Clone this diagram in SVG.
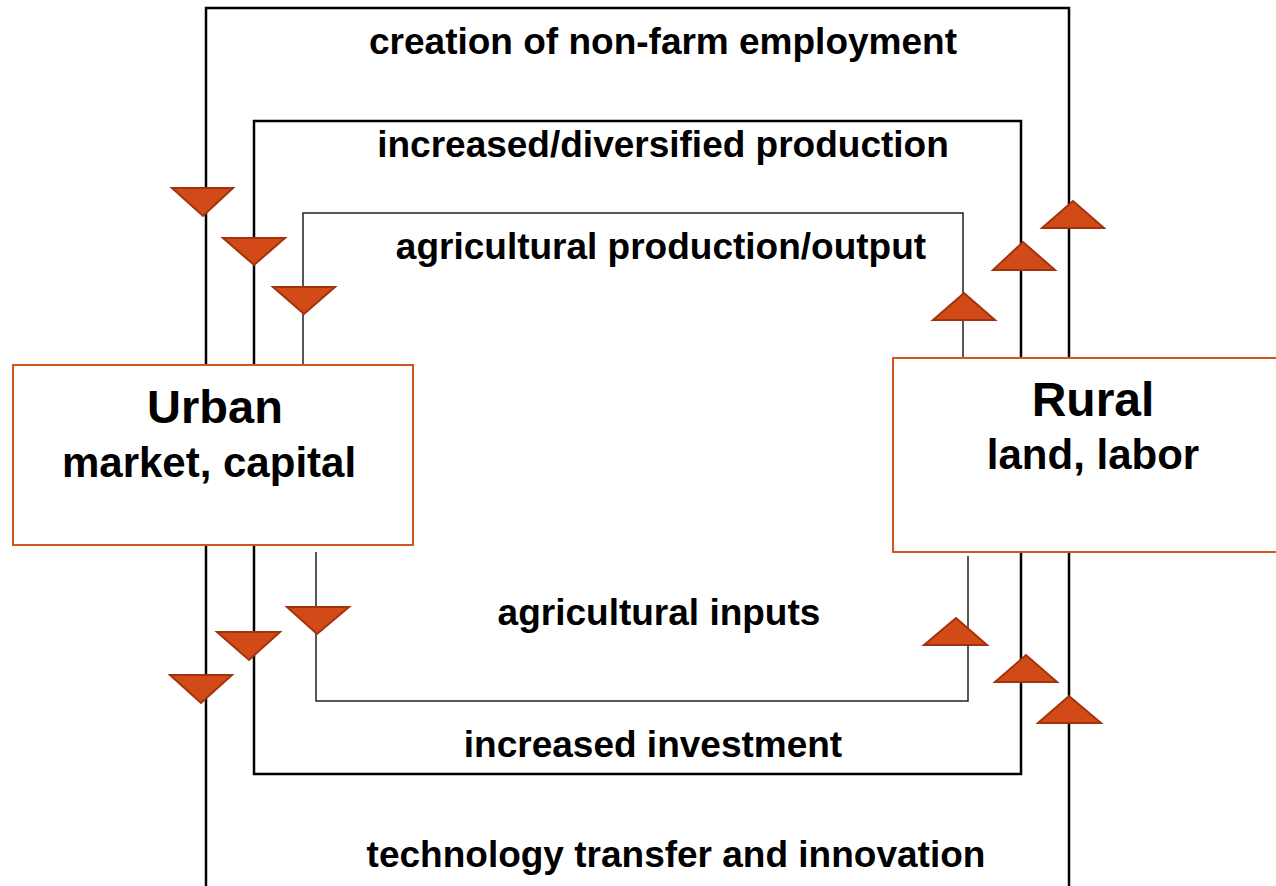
<svg xmlns="http://www.w3.org/2000/svg" width="1276" height="886" viewBox="0 0 1276 886">
<style>
.t{font-family:"Liberation Sans",Arial,sans-serif;font-weight:bold;fill:#000;text-anchor:middle}
.lbl{font-size:37px}
.thick{fill:none;stroke:#000;stroke-width:2.5}
.thin{fill:none;stroke:#222;stroke-width:1.5}
.box{fill:#fff;stroke:#d4541f;stroke-width:2}
.tri{fill:#d24a17;stroke:#a3330d;stroke-width:2;stroke-linejoin:miter}
</style>
<rect width="1276" height="886" fill="#fff"/>
<g id="connectors">
<path class="thick" d="M206,886 V8 H1069 V886"/>
<path class="thick" d="M254,365 V121 H1021 V358"/>
<path class="thick" d="M254,545 V774 H1021 V552"/>
<path class="thin" d="M303,365 V213 H963 V364"/>
<path class="thin" d="M316,552 V701 H968 V556"/>
</g>
<g id="arrows">
<polygon class="tri" points="172,188 233,188 203,216"/>
<polygon class="tri" points="223,238 285,238 254,265"/>
<polygon class="tri" points="273,287 335,287 304,314"/>
<polygon class="tri" points="933,320 995,320 964,293"/>
<polygon class="tri" points="993,270 1055,270 1023,242"/>
<polygon class="tri" points="1042,228 1104,228 1073,201"/>
<polygon class="tri" points="287,607 349,607 317,634"/>
<polygon class="tri" points="217,632 280,632 249,660"/>
<polygon class="tri" points="170,675 232,675 201,703"/>
<polygon class="tri" points="924,645 987,645 956,618"/>
<polygon class="tri" points="995,682 1057,682 1026,655"/>
<polygon class="tri" points="1038,723 1101,723 1069,696"/>
</g>
<g id="labels">
<text class="t lbl" x="663" y="54">creation of non-farm employment</text>
<text class="t lbl" x="663" y="157">increased/diversified production</text>
<text class="t lbl" x="661" y="259">agricultural production/output</text>
<text class="t lbl" x="659" y="625">agricultural inputs</text>
<text class="t lbl" x="653" y="757">increased investment</text>
<text class="t lbl" x="676" y="867">technology transfer and innovation</text>
</g>
<g id="urban">
<rect class="box" x="13" y="365" width="400" height="180"/>
<text class="t" x="215" y="423" font-size="47">Urban</text>
<text class="t" x="209" y="477" font-size="42">market, capital</text>
</g>
<g id="rural">
<rect class="box" x="893" y="358" width="400" height="194"/>
<text class="t" x="1093" y="416" font-size="48">Rural</text>
<text class="t" x="1093" y="469" font-size="42">land, labor</text>
</g>
</svg>
